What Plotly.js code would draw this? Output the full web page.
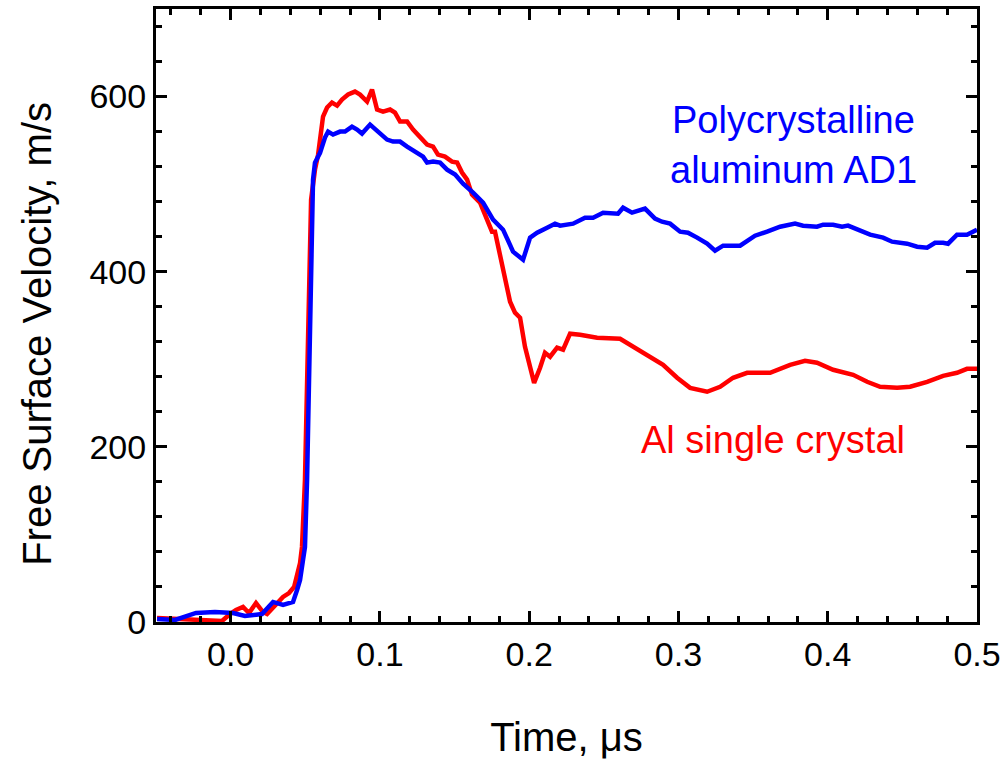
<!DOCTYPE html>
<html>
<head>
<meta charset="utf-8">
<script src="https://cdn.plot.ly/plotly-3.0.1.min.js"></script>
<style>html,body{margin:0;padding:0;background:#fff;}#plot{width:1002px;height:759px;}</style>
</head>
<body>
<div id="plot"></div>
<script>
// Al single crystal (red)
const redTime = [-0.0493,-0.0339,-0.0205,-0.0118,-0.0058,-0.0004,0.0036,0.0083,0.0123,0.0170,0.0217,0.0244,0.0284,0.0351,0.0391,0.0425,0.0465,0.0478,0.0498,0.0512,0.0525,0.0539,0.0565,0.0586,0.0619,0.0646,0.0679,0.0713,0.0746,0.0787,0.0833,0.0867,0.0914,0.0947,0.0981,0.1021,0.1068,0.1101,0.1135,0.1182,0.1222,0.1282,0.1316,0.1356,0.1389,0.1436,0.1483,0.1517,0.1550,0.1584,0.1617,0.1671,0.1718,0.1751,0.1771,0.1805,0.1838,0.1872,0.1905,0.1939,0.1972,0.2006,0.2033,0.2073,0.2106,0.2140,0.2187,0.2227,0.2274,0.2341,0.2455,0.2609,0.2696,0.2790,0.2897,0.2991,0.3078,0.3192,0.3279,0.3366,0.3460,0.3614,0.3748,0.3848,0.3928,0.4036,0.4170,0.4264,0.4351,0.4465,0.4552,0.4666,0.4773,0.4866,0.4933,0.5];
const redVel = [4.6,3.4,3.4,2.3,1.1,9.1,13.7,17.1,10.3,21.7,11.4,9.1,17.1,28.6,33.1,40,67.4,85.7,162.3,276.6,390.9,482.3,516.6,533.7,577.2,587.5,593.2,589.7,596.6,602.3,605.7,602.3,594.3,608,585.2,582.9,585.2,581.7,571.5,571.5,562.3,550.9,545.2,542.9,533.7,531.4,525.7,524.6,513.2,505.2,488,478.9,459.4,445.7,445.7,417.2,390.9,365.7,353.2,347.4,314.3,288,273.1,290.3,307.4,302.9,313.2,310.9,329.2,328,324.6,323.4,314.3,305.2,293.7,278.9,267.4,262.9,268.6,278.9,284.6,284.6,293.7,298.3,296,288,282.3,274.3,268.6,267.4,268.6,274.3,281.1,284.6,289.1,289.1];

// Polycrystalline aluminum AD1 (blue)
const blueTime = [-0.0493,-0.0372,-0.0232,-0.0105,0.0016,0.0096,0.0210,0.0284,0.0351,0.0418,0.0445,0.0465,0.0485,0.0498,0.0512,0.0525,0.0539,0.0552,0.0565,0.0599,0.0632,0.0653,0.0686,0.0733,0.0766,0.0813,0.0847,0.0880,0.0934,0.0981,0.1048,0.1088,0.1135,0.1182,0.1235,0.1289,0.1316,0.1356,0.1403,0.1450,0.1504,0.1557,0.1624,0.1691,0.1758,0.1825,0.1892,0.1959,0.2006,0.2053,0.2120,0.2173,0.2207,0.2294,0.2374,0.2428,0.2495,0.2542,0.2595,0.2629,0.2689,0.2776,0.2843,0.2890,0.2944,0.3011,0.3064,0.3125,0.3192,0.3245,0.3299,0.3413,0.3513,0.3594,0.3681,0.3781,0.3835,0.3928,0.3969,0.4036,0.4096,0.4136,0.4217,0.4284,0.4371,0.4431,0.4532,0.4599,0.4666,0.4719,0.4773,0.4806,0.4866,0.4933,0.5];
const blueVel = [3.4,2.3,10.3,11.4,10.3,6.9,9.1,22.9,19.4,22.9,36.6,48,70.9,85.7,162.3,276.6,390.9,505.2,524.6,535.7,553.2,560,556.6,560,560,565.7,562.3,557.7,568,561.2,550.9,548.6,548.6,542.9,537.1,531.4,524.6,525.7,524.6,516.6,510.9,500.6,490.3,478.9,459.4,448,422.9,413.7,438.9,444.6,450.3,454.9,452.6,454.9,461.7,461.7,467.4,466.3,466.3,473.1,467.4,472,460.6,457.1,454.9,445.7,444.6,438.9,432,424,429.7,429.7,441.1,445.7,451.4,454.9,452.6,451.4,453.7,453.7,451.4,452.6,446.9,442.3,438.9,434.3,432,428.6,427.4,433.1,433.1,432,442.3,442.3,448];

const xTicks = [0.0,0.1,0.2,0.3,0.4,0.5];
const xTickText = ['0.0','0.1','0.2','0.3','0.4','0.5'];
const yTicks = [0,200,400,600];
const yTickText = ['0','200','400','600'];

const fontFam = 'Liberation Sans, Arial, sans-serif';

const traces = [
  {x: redTime, y: redVel, type: 'scatter', mode: 'lines', name: 'Al single crystal',
   line: {color: '#ff0000', width: 4.5}},
  {x: blueTime, y: blueVel, type: 'scatter', mode: 'lines', name: 'Polycrystalline aluminum AD1',
   line: {color: '#0000ff', width: 4.5}}
];

const axisCommon = {
  showgrid: false, zeroline: false, showline: true, linecolor: '#000', linewidth: 3,
  mirror: 'ticks', ticks: 'inside', tickcolor: '#000', tickwidth: 3, ticklen: 11,
  tickfont: {family: fontFam, size: 34, color: '#000'}
};

const layout = {
  width: 1002, height: 759,
  margin: {l: 156, r: 25, t: 9, b: 137},
  paper_bgcolor: '#fff', plot_bgcolor: '#fff',
  showlegend: false,
  xaxis: Object.assign({}, axisCommon, {
    range: [-0.05, 0.5], tickmode: 'array', tickvals: xTicks, ticktext: xTickText,
    minor: {dtick: 0.02, tick0: 0, ticks: 'inside', ticklen: 6, tickwidth: 3, tickcolor: '#000'},
    title: {text: 'Time, μs', font: {family: fontFam, size: 40, color: '#000'}, standoff: 52}
  }),
  yaxis: Object.assign({}, axisCommon, {
    range: [0, 700], tickmode: 'array', tickvals: yTicks, ticktext: yTickText,
    minor: {dtick: 40, tick0: 0, ticks: 'inside', ticklen: 6, tickwidth: 3, tickcolor: '#000'}
  }),
  annotations: [
    {x: -0.145, y: 0.47, xref: 'paper', yref: 'paper', text: 'Free Surface Velocity, m/s',
     textangle: -90, showarrow: false, xanchor: 'center', yanchor: 'middle',
     font: {family: fontFam, size: 40, color: '#000'}},
    {x: 0.3768, y: 573.7, xref: 'x', yref: 'y', text: 'Polycrystalline', showarrow: false,
     font: {family: fontFam, size: 38, color: '#0000ff'}},
    {x: 0.3768, y: 516.6, xref: 'x', yref: 'y', text: 'aluminum AD1', showarrow: false,
     font: {family: fontFam, size: 38, color: '#0000ff'}},
    {x: 0.363, y: 208, xref: 'x', yref: 'y', text: 'Al single crystal', showarrow: false,
     font: {family: fontFam, size: 38, color: '#ff0000'}}
  ]
};

Plotly.newPlot('plot', traces, layout, {displayModeBar: false, staticPlot: true});
</script>
</body>
</html>
